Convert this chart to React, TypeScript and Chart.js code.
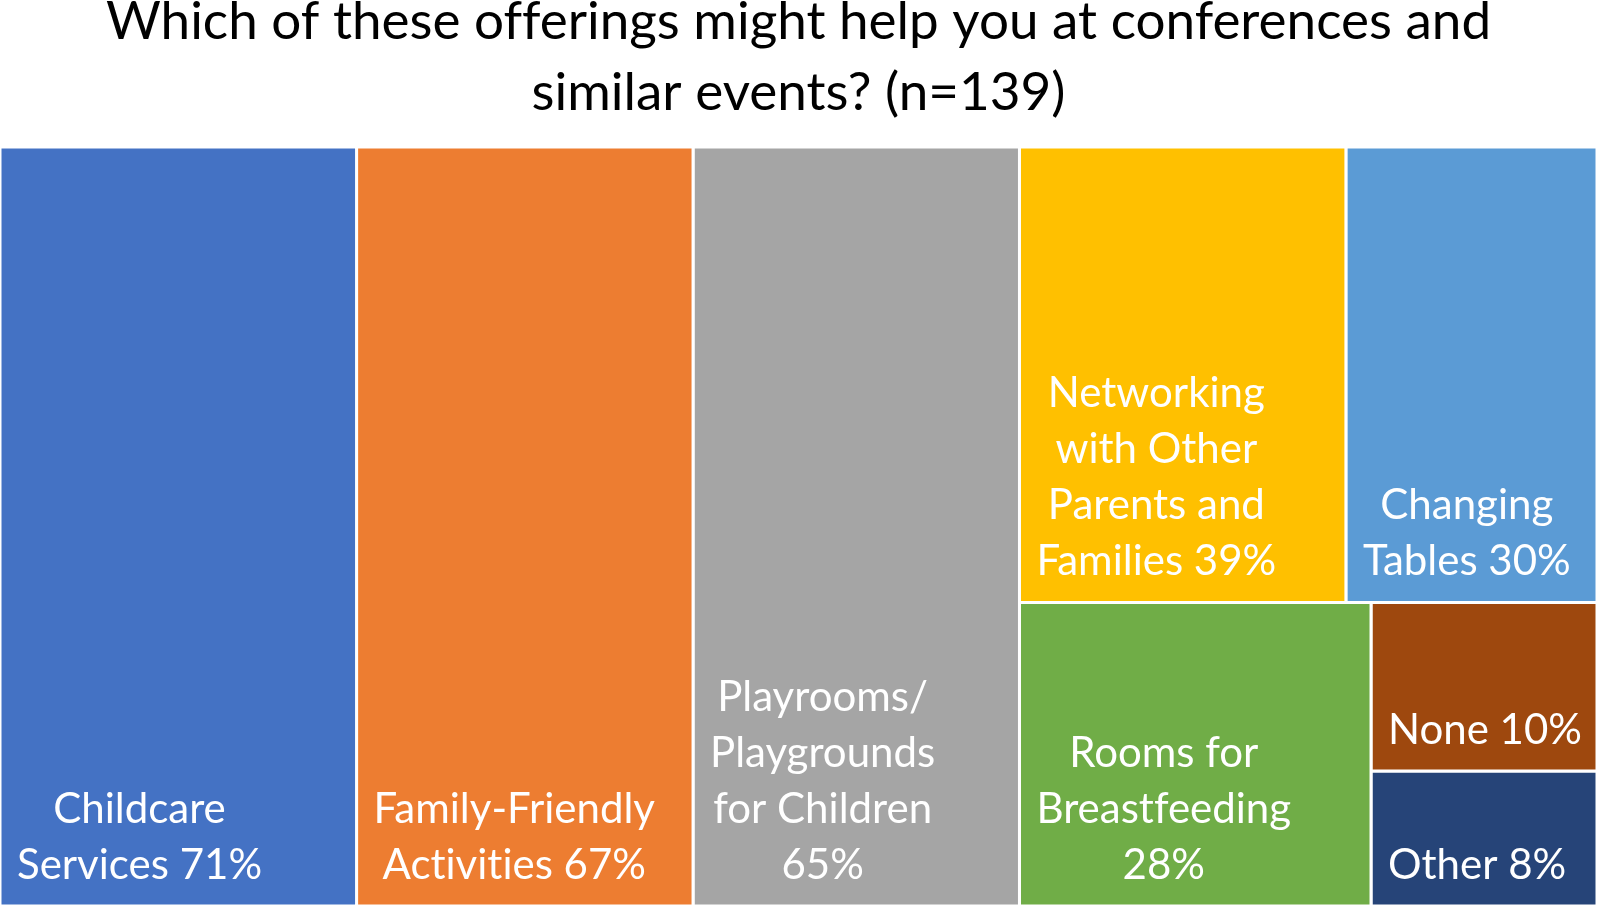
import React, { useEffect, useRef } from "react";
import { Chart, registerables } from "chart.js";

Chart.register(...registerables);

// ---- Data ----
const categories = [
  "Childcare Services",
  "Family-Friendly Activities",
  "Playrooms/ Playgrounds for Children",
  "Networking with Other Parents and Families",
  "Changing Tables",
  "Rooms for Breastfeeding",
  "None",
  "Other",
];
const values = [71, 67, 65, 39, 30, 28, 10, 8];
const labelLines = [
  ["Childcare", "Services {v}%"],
  ["Family-Friendly", "Activities {v}%"],
  ["Playrooms/", "Playgrounds", "for Children", "{v}%"],
  ["Networking", "with Other", "Parents and", "Families {v}%"],
  ["Changing", "Tables {v}%"],
  ["Rooms for", "Breastfeeding", "{v}%"],
  ["None {v}%"],
  ["Other {v}%"],
];
const colors = ["#4472C4", "#ED7D31", "#A5A5A5", "#FFC000", "#5B9BD5", "#70AD47", "#9E480E", "#264478"];
const titleLines = ["Which of these offerings might help you at conferences and", "similar events? (n=139)"];

// ---- Layout config ----
const PAGE_W = 1597;
const PAGE_H = 906;
const AREA_TOP = 147;
const AREA_W = PAGE_W;
const AREA_H = PAGE_H - AREA_TOP;
const LEAD_MAX_ASPECT = 2.5;
const FONT = "Lato, 'Open Sans', sans-serif";

// break typographic ligatures (fi, ff, ti, ft...) with zero-width non-joiners
const noLig = (s: string) => s.replace(/([ft])(?=[filt])/g, "$1\u200C");

type R = { x0: number; y0: number; x1: number; y1: number; i: number };

function layoutTreemap(vals: number[], w: number, h: number): R[] {
  const total = vals.reduce((a, b) => a + b, 0);
  const areas = vals.map((v) => (v * w * h) / total);
  const out: R[] = [];
  let x = 0, y = 0, cw = w, ch = h, k = 0;
  // leading full-height columns
  while (k < vals.length) {
    const colW = areas[k] / ch;
    if (ch / colW > LEAD_MAX_ASPECT) break;
    out.push({ x0: x, y0: y, x1: x + colW, y1: y + ch, i: k });
    x += colW; cw -= colW; k++;
  }
  const worst = (row: number[], short: number) => {
    const s = row.reduce((a, r) => a + areas[r], 0);
    const thick = s / short;
    let m = 0;
    row.forEach((r) => {
      const len = areas[r] / thick;
      m = Math.max(m, thick / len, len / thick);
    });
    return m;
  };
  let rest: number[] = [];
  for (let j = k; j < vals.length; j++) rest.push(j);
  while (rest.length) {
    const short = Math.min(cw, ch);
    let row = [rest[0]];
    let best = worst(row, short);
    let j = 1;
    while (j < rest.length) {
      const cand = [...row, rest[j]];
      const wv = worst(cand, short);
      if (wv <= best) { row = cand; best = wv; j++; } else break;
    }
    const rowArea = row.reduce((a, r) => a + areas[r], 0);
    const thick = rowArea / short;
    if (cw >= ch) {
      let yy = y;
      row.forEach((r) => {
        const hh = areas[r] / thick;
        out.push({ x0: x, y0: yy, x1: x + thick, y1: yy + hh, i: r });
        yy += hh;
      });
      x += thick; cw -= thick;
    } else {
      let xx = x;
      row.forEach((r) => {
        const ww = areas[r] / thick;
        out.push({ x0: xx, y0: y, x1: xx + ww, y1: y + thick, i: r });
        xx += ww;
      });
      y += thick; ch -= thick;
    }
    rest = rest.slice(row.length);
  }
  return out;
}

export default function App() {
  const ref = useRef<HTMLCanvasElement | null>(null);

  useEffect(() => {
    if (!ref.current) return;
    const rects = layoutTreemap(values, AREA_W, AREA_H);

    const datasets = rects.map((r) => ({
      label: categories[r.i],
      data: [
        { x: r.x0, y: r.y0 },
        { x: r.x1, y: r.y0 },
        { x: r.x1, y: r.y1 },
        { x: r.x0, y: r.y1 },
        { x: r.x0, y: r.y0 },
      ],
      showLine: true,
      fill: "shape",
      backgroundColor: colors[r.i],
      borderColor: "#ffffff",
      borderWidth: 3,
      pointRadius: 0,
      pointHoverRadius: 0,
      tension: 0,
    }));

    const labelPlugin = {
      id: "treemapLabels",
      afterDatasetsDraw(chart: any) {
        const ctx = chart.ctx;
        const xs = chart.scales.x;
        const ys = chart.scales.y;
        ctx.save();
        ctx.fillStyle = "#ffffff";
        ctx.font = `42px ${FONT}`;
        ctx.textBaseline = "alphabetic";
        ctx.textAlign = "center";
        rects.forEach((r) => {
          const px0 = xs.getPixelForValue(r.x0);
          const pyBottom = ys.getPixelForValue(r.y1);
          const lines = labelLines[r.i].map((s) => noLig(s.replace("{v}", String(values[r.i]))));
          const maxW = Math.max(...lines.map((l) => ctx.measureText(l).width));
          const cx = px0 + 17 + maxW / 2;
          const lastBase = pyBottom - 27.5;
          lines.forEach((l, idx) => {
            ctx.fillText(l, cx, lastBase - (lines.length - 1 - idx) * 56);
          });
        });
        // title
        ctx.fillStyle = "#000000";
        ctx.font = `53px ${FONT}`;
        ctx.fillText(noLig(titleLines[0]), chart.width / 2, 39);
        ctx.fillText(noLig(titleLines[1]), chart.width / 2, 110);
        ctx.restore();
      },
    };

    const chart = new Chart(ref.current, {
      type: "scatter",
      data: { datasets: datasets as any },
      options: {
        animation: false,
        responsive: true,
        maintainAspectRatio: false,
        layout: { padding: { top: AREA_TOP, left: 0, right: 0, bottom: 0 } },
        scales: {
          x: { type: "linear", min: 0, max: AREA_W, display: false },
          y: { type: "linear", min: 0, max: AREA_H, reverse: true, display: false },
        },
        plugins: {
          legend: { display: false },
          tooltip: { enabled: false },
          title: { display: false },
        },
        events: [],
      } as any,
      plugins: [labelPlugin],
    });
    return () => chart.destroy();
  }, []);

  return (
    <div style={{ position: "fixed", left: 0, top: 0, width: PAGE_W, height: PAGE_H, background: "#fff" }}>
      <canvas ref={ref} />
    </div>
  );
}
